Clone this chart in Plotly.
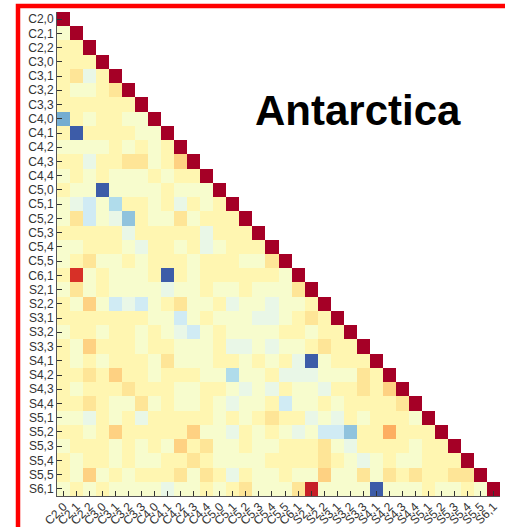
import plotly.graph_objects as go

# Variable labels (rows top→bottom, columns left→right)
labels = [
    "C2,0", "C2,1", "C2,2", "C3,0", "C3,1", "C3,2", "C3,3",
    "C4,0", "C4,1", "C4,2", "C4,3", "C4,4",
    "C5,0", "C5,1", "C5,2", "C5,3", "C5,4", "C5,5", "C6,1",
    "S2,1", "S2,2", "S3,1", "S3,2", "S3,3",
    "S4,1", "S4,2", "S4,3", "S4,4",
    "S5,1", "S5,2", "S5,3", "S5,4", "S5,5", "S6,1",
]

# Lower-triangle correlations: row i holds the values for columns 0..i-1
corr_rows = [
    [],
    [-0.05],
    [0.06, 0.06],
    [0.06, 0.06, 0.06],
    [0.06, 0.17, -0.14, 0.06],
    [0.06, -0.05, -0.05, 0.06, 0.17],
    [0.06, 0.06, 0.06, 0.06, 0.06, 0.06],
    [-0.6, 0.06, -0.05, 0.06, 0.06, -0.05, -0.05],
    [0.06, -0.88, 0.06, 0.06, 0.06, 0.06, -0.05, -0.05],
    [-0.05, -0.05, -0.05, -0.05, 0.06, -0.05, 0.06, -0.05, 0.06],
    [0.06, 0.06, -0.14, 0.06, 0.06, 0.17, 0.17, -0.05, 0.06, 0.26],
    [-0.05, 0.06, -0.05, 0.06, -0.05, -0.05, -0.05, 0.06, -0.05, 0.06, 0.06],
    [0.06, -0.05, -0.05, -0.88, -0.05, -0.05, -0.05, -0.05, 0.06, -0.05, -0.05, -0.05],
    [-0.05, -0.14, -0.26, -0.05, -0.38, 0.06, 0.06, -0.05, 0.06, -0.14, 0.06, -0.05, 0.06],
    [-0.05, 0.17, -0.26, -0.05, -0.14, -0.5, 0.06, -0.05, -0.05, 0.17, -0.05, 0.06, 0.06, 0.06],
    [0.06, 0.06, 0.06, 0.06, 0.06, -0.14, 0.06, 0.06, 0.06, 0.06, 0.06, -0.14, 0.06, 0.06, 0.06],
    [-0.05, -0.05, 0.06, 0.06, 0.06, -0.05, -0.14, 0.06, 0.06, -0.05, 0.06, -0.14, -0.05, 0.06, 0.06, 0.06],
    [-0.05, 0.06, 0.17, -0.05, -0.05, 0.06, -0.05, 0.06, 0.06, 0.06, -0.05, 0.06, 0.06, 0.06, -0.05, -0.05,
     0.17],
    [0.06, 0.8, -0.05, 0.06, -0.05, -0.05, -0.05, 0.06, -0.88, 0.06, -0.05, 0.06, 0.06, 0.06, 0.06, 0.06,
     0.06, -0.05],
    [-0.05, 0.17, -0.05, 0.06, -0.05, -0.05, -0.05, -0.05, -0.14, -0.05, -0.05, 0.06, -0.05, -0.05, 0.06,
     -0.05, -0.05, -0.05, 0.17],
    [0.06, -0.05, 0.26, -0.05, -0.26, -0.14, -0.26, -0.05, 0.06, 0.17, -0.05, -0.05, 0.06, -0.14, -0.05,
     -0.05, -0.14, -0.05, -0.05, 0.06],
    [0.06, 0.06, 0.06, 0.06, 0.06, 0.06, 0.06, -0.05, -0.05, -0.26, -0.05, 0.06, -0.05, -0.05, -0.05,
     -0.14, -0.14, -0.05, 0.06, 0.17, 0.06],
    [-0.05, 0.06, 0.06, -0.05, 0.06, 0.06, -0.05, 0.06, -0.05, -0.14, -0.26, -0.05, 0.06, -0.05, -0.05,
     -0.05, -0.05, 0.06, 0.06, -0.05, 0.06, 0.06],
    [0.06, -0.05, 0.26, 0.06, 0.06, 0.06, -0.05, 0.06, 0.06, -0.05, -0.05, -0.05, 0.06, -0.14, -0.14,
     -0.05, -0.14, -0.05, -0.05, 0.06, 0.17, 0.06, 0.06],
    [0.06, -0.05, 0.06, -0.05, 0.06, 0.06, 0.06, -0.05, 0.17, -0.05, -0.05, -0.05, 0.06, 0.06, -0.05,
     0.06, -0.05, 0.06, -0.14, -0.88, -0.05, 0.06, 0.06, 0.06],
    [0.06, 0.06, 0.17, 0.06, 0.26, 0.06, 0.06, -0.05, 0.06, 0.06, 0.06, -0.05, -0.05, -0.38, -0.05,
     -0.05, 0.06, -0.14, -0.14, -0.14, -0.05, -0.05, -0.05, 0.17, 0.06],
    [0.06, -0.05, 0.06, 0.06, 0.06, 0.17, 0.06, 0.06, 0.06, -0.05, -0.05, 0.06, 0.06, -0.05, -0.14,
     -0.05, -0.14, 0.06, -0.05, -0.05, -0.14, 0.06, 0.06, 0.17, 0.06, 0.26],
    [0.06, 0.06, 0.17, 0.06, -0.05, -0.05, 0.17, -0.05, 0.06, -0.05, -0.05, 0.06, -0.05, -0.14, -0.05,
     -0.05, 0.06, -0.26, -0.05, -0.05, 0.06, -0.05, 0.06, 0.06, 0.06, 0.06, 0.17],
    [-0.05, -0.05, -0.14, 0.06, -0.05, 0.06, -0.14, 0.06, 0.06, 0.06, 0.06, 0.06, -0.05, 0.06, -0.05,
     0.06, 0.17, 0.06, 0.06, -0.14, -0.05, -0.14, 0.06, -0.05, 0.06, 0.06, 0.06, -0.05],
    [0.06, 0.06, -0.05, 0.06, 0.26, 0.06, 0.06, 0.06, 0.06, 0.06, 0.26, -0.05, -0.05, -0.14, 0.06,
     -0.05, 0.06, -0.05, -0.14, -0.05, -0.26, -0.26, -0.5, 0.06, 0.06, 0.4, 0.06, 0.06, 0.06],
    [-0.05, 0.06, 0.06, 0.06, -0.05, 0.06, -0.05, 0.06, -0.05, 0.26, 0.06, 0.17, -0.05, -0.05, 0.06,
     -0.05, -0.05, 0.06, 0.06, 0.06, 0.17, -0.05, -0.14, 0.06, 0.06, 0.06, 0.06, -0.05, 0.06, 0.06],
    [0.06, -0.05, 0.06, 0.06, -0.05, 0.06, -0.05, -0.05, 0.06, 0.06, 0.17, 0.06, -0.05, -0.05, -0.05,
     -0.05, 0.06, 0.06, 0.06, 0.06, 0.17, 0.06, -0.05, -0.14, -0.05, 0.06, -0.05, -0.05, 0.06, 0.06,
     0.06],
    [0.06, -0.05, 0.26, -0.05, 0.06, -0.05, 0.06, 0.06, 0.06, 0.17, -0.05, 0.17, 0.06, -0.14, 0.06,
     -0.05, -0.05, 0.06, -0.05, -0.05, 0.26, -0.05, -0.05, 0.17, -0.05, 0.17, 0.06, 0.17, 0.06, 0.06,
     0.17, 0.17],
    [-0.05, 0.06, -0.05, 0.06, -0.05, -0.05, -0.05, -0.05, -0.14, -0.05, -0.05, 0.06, -0.05, 0.06, 0.17,
     -0.05, -0.05, -0.05, 0.17, 0.87, -0.05, -0.05, -0.05, -0.05, -0.88, -0.05, -0.05, -0.05, 0.06, -0.05,
     -0.05, 0.06, -0.05],
]

# Full matrix: lower triangle + unit diagonal, upper triangle left empty
n = len(labels)
z = [list(corr_rows[i]) + [1.0] + [None] * (n - i - 1) for i in range(n)]

# Red-yellow-blue diverging scale, blue for -1 and dark red for +1
rdylbu_r = [
    [0.0, "rgb(49,54,149)"], [0.1, "rgb(69,117,180)"], [0.2, "rgb(116,173,209)"],
    [0.3, "rgb(171,217,233)"], [0.4, "rgb(224,243,248)"], [0.5, "rgb(255,255,191)"],
    [0.6, "rgb(254,224,144)"], [0.7, "rgb(253,174,97)"], [0.8, "rgb(244,109,67)"],
    [0.9, "rgb(215,48,39)"], [1.0, "rgb(165,0,38)"],
]

fig = go.Figure(
    go.Heatmap(
        z=z, x=labels, y=labels,
        colorscale=rdylbu_r, zmin=-1, zmax=1,
        showscale=False, hoverongaps=False,
    )
)

axis_common = dict(
    type="category",
    tickmode="array", tickvals=labels, ticktext=labels,
    showgrid=False, zeroline=False,
    showline=True, linecolor="#555", linewidth=1,
    ticks="inside", ticklen=5, tickwidth=1, tickcolor="#333",
    tickfont=dict(family="Liberation Sans, Arial, sans-serif", size=12, color="#333"),
    automargin=False,
)

fig.update_layout(
    width=505, height=527,
    margin=dict(l=57, r=5, t=12, b=31, autoexpand=False),
    paper_bgcolor="white", plot_bgcolor="white",
    xaxis=dict(axis_common, tickangle=-45, ticklabelstandoff=-2),
    yaxis=dict(axis_common, autorange="reversed"),
    annotations=[
        dict(
            text="<b>Antarctica</b>", xref="paper", yref="paper",
            x=0.4424, y=0.797, xanchor="left", yanchor="middle",
            showarrow=False,
            font=dict(family="Liberation Sans, Arial, sans-serif", size=42, color="black"),
        )
    ],
    shapes=[
        # red frame running off the right and bottom edges
        dict(
            type="rect", xref="paper", yref="paper",
            x0=(18 - 57) / 443, x1=(540 - 57) / 443,
            y0=1 - (560 - 12) / 484, y1=1 - (6 - 12) / 484,
            line=dict(color="#ff0000", width=4.5), fillcolor="rgba(0,0,0,0)",
            layer="above",
        )
    ],
)

fig.write_html("out.html")
